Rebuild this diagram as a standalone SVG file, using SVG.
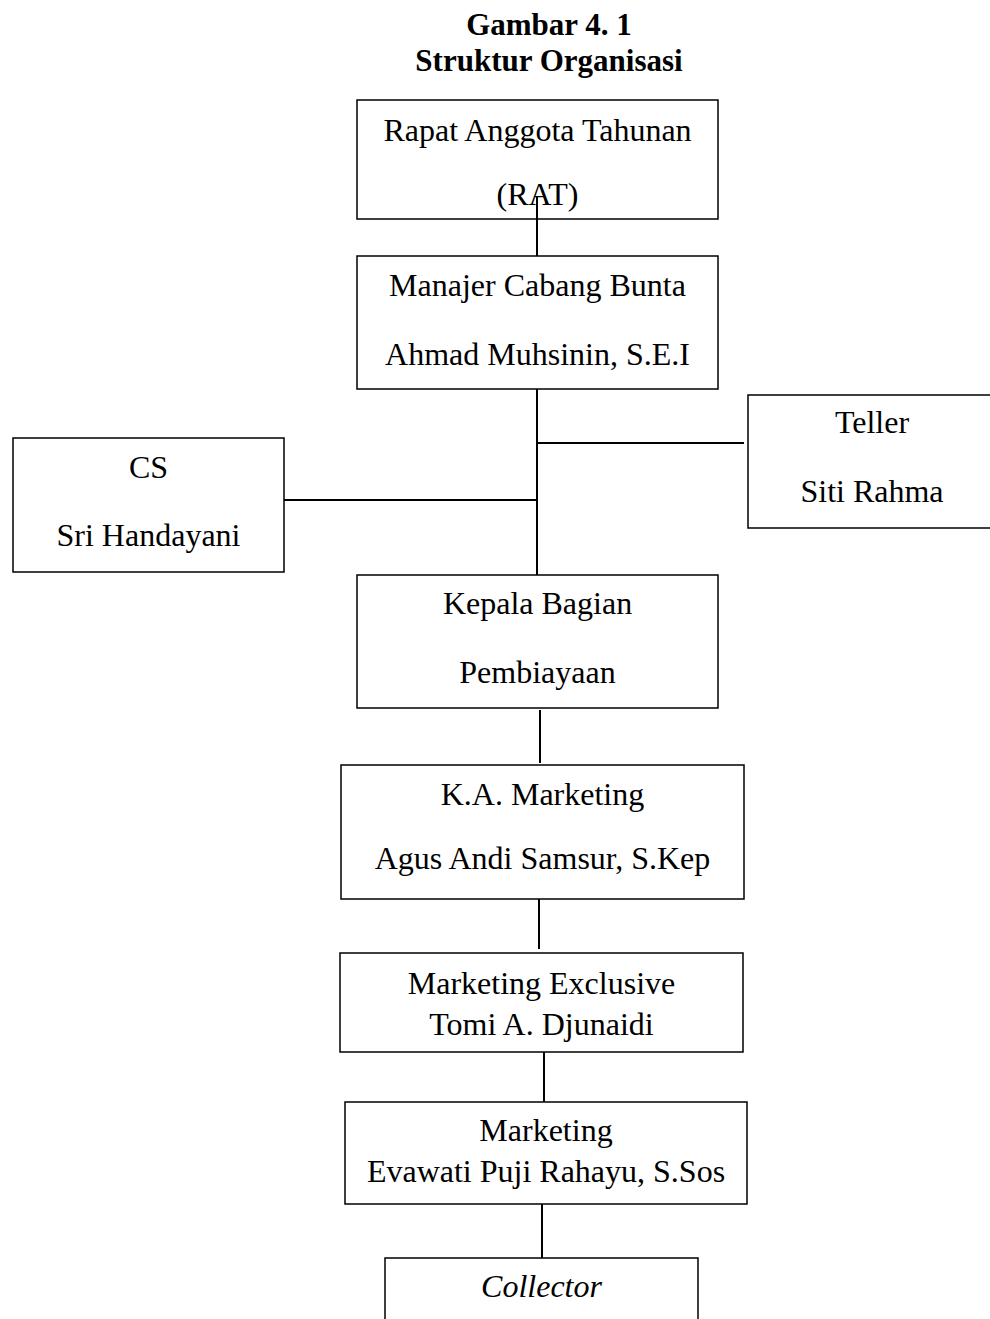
<svg xmlns="http://www.w3.org/2000/svg" width="990" height="1319" viewBox="0 0 990 1319">
<style>
.box{fill:#fff;stroke:#000;stroke-width:1.5}
.t{font-family:"Liberation Serif","Times New Roman",serif;font-size:32px;fill:#000;text-anchor:middle}
.title{font-family:"Liberation Serif","Times New Roman",serif;font-size:31px;font-weight:bold;fill:#000;text-anchor:middle}
.it{font-style:italic}
.c{stroke:#000;stroke-width:2;fill:none}
</style>
<rect width="990" height="1319" fill="#fff"/>
<g id="title">
<text class="title" x="549" y="35">Gambar 4. 1</text>
<text class="title" x="549" y="71">Struktur Organisasi</text>
</g>
<g id="rat">
<rect class="box" x="357" y="100" width="361" height="119"/>
<text class="t" x="537.5" y="141">Rapat Anggota Tahunan</text>
<text class="t" x="537.5" y="205">(RAT)</text>
</g>
<g id="manajer">
<rect class="box" x="357" y="256" width="361" height="133"/>
<text class="t" x="537.5" y="296">Manajer Cabang Bunta</text>
<text class="t" x="537.5" y="365">Ahmad Muhsinin, S.E.I</text>
</g>
<g id="teller">
<rect class="box" x="748" y="395" width="250" height="133"/>
<text class="t" x="872" y="433">Teller</text>
<text class="t" x="872" y="502">Siti Rahma</text>
</g>
<g id="cs">
<rect class="box" x="13" y="438" width="271" height="134"/>
<text class="t" x="148.5" y="478">CS</text>
<text class="t" x="148.5" y="546">Sri Handayani</text>
</g>
<g id="kepala">
<rect class="box" x="357" y="575" width="361" height="133"/>
<text class="t" x="537.5" y="614">Kepala Bagian</text>
<text class="t" x="537.5" y="683">Pembiayaan</text>
</g>
<g id="ka-marketing">
<rect class="box" x="341" y="765" width="403" height="134"/>
<text class="t" x="542.5" y="805">K.A. Marketing</text>
<text class="t" x="542.5" y="869">Agus Andi Samsur, S.Kep</text>
</g>
<g id="marketing-exclusive">
<rect class="box" x="340" y="953" width="403" height="99"/>
<text class="t" x="541.5" y="994">Marketing Exclusive</text>
<text class="t" x="541.5" y="1035">Tomi A. Djunaidi</text>
</g>
<g id="marketing">
<rect class="box" x="345" y="1102" width="402" height="102"/>
<text class="t" x="546" y="1141">Marketing</text>
<text class="t" x="546" y="1182">Evawati Puji Rahayu, S.Sos</text>
</g>
<g id="collector">
<rect class="box" x="385" y="1258" width="313" height="80"/>
<text class="t it" x="541.5" y="1297">Collector</text>
</g>
<g id="connectors">
<line class="c" x1="537" y1="196" x2="537" y2="256"/>
<line class="c" x1="537" y1="389" x2="537" y2="575"/>
<line class="c" x1="536" y1="443" x2="744" y2="443"/>
<line class="c" x1="284" y1="500" x2="537" y2="500"/>
<line class="c" x1="540" y1="710" x2="540" y2="763"/>
<line class="c" x1="539" y1="899" x2="539" y2="949"/>
<line class="c" x1="544" y1="1052" x2="544" y2="1102"/>
<line class="c" x1="542" y1="1204" x2="542" y2="1258"/>
</g>
</svg>
